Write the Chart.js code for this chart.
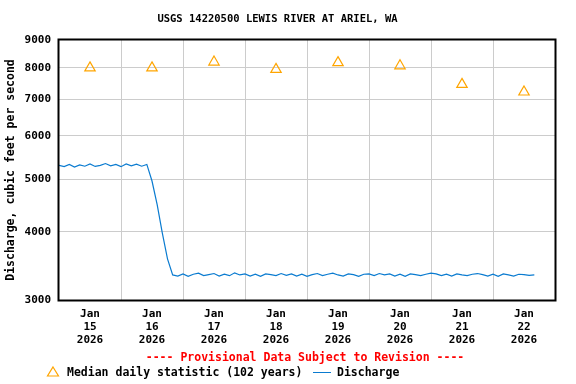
<!DOCTYPE html>
<html>
<head>
<meta charset="utf-8">
<script src="https://cdn.jsdelivr.net/npm/chart.js@4"></script>
<style>
  html, body { margin: 0; padding: 0; background: #fff; }
  #wrap { width: 576px; height: 384px; }
</style>
</head>
<body>
<div id="wrap"><canvas id="flowChart" width="576" height="384"></canvas></div>
<script>
// ─── data ──────────────────────────────────────────────────────
const TITLE      = 'USGS 14220500 LEWIS RIVER AT ARIEL, WA'
const Y_TITLE    = 'Discharge, cubic feet per second'
const DAY_TICKS  = [
  ['Jan', '15', '2026'], ['Jan', '16', '2026'], ['Jan', '17', '2026'], ['Jan', '18', '2026'],
  ['Jan', '19', '2026'], ['Jan', '20', '2026'], ['Jan', '21', '2026'], ['Jan', '22', '2026'],
]
const Y_TICKS    = [3000, 4000, 5000, 6000, 7000, 8000, 9000]
const MEDIAN     = [8000, 8000, 8200, 7950, 8180, 8070, 7460, 7225]   // noon of each day
const FLOW_STEP  = 2   // hours between discharge readings, from Jan 15 00:00
const FLOW       = [
  5300, 5270, 5320, 5260, 5310, 5280, 5330, 5275, 5300, 5340, 5290, 5320, 5270, 5330, 5290, 5325, 5280, 5320,
  4960, 4490, 3981, 3570,
  3335, 3320, 3350, 3315, 3345, 3360, 3325, 3340, 3355, 3320,
  3345, 3325, 3365, 3335, 3350, 3320, 3345, 3315, 3350, 3340,
  3325, 3355, 3330, 3350, 3320, 3345, 3315, 3340, 3355, 3325,
  3345, 3360, 3335, 3320, 3350, 3340, 3315, 3345, 3350, 3325,
  3355, 3335, 3350, 3320, 3345, 3315, 3350, 3340, 3325, 3345,
  3360, 3350, 3325, 3345, 3320, 3350, 3335, 3325, 3345, 3355,
  3340, 3320, 3345, 3315, 3350, 3335, 3320, 3345, 3340, 3330,
  3335,
]

const MONO   = "'DejaVu Sans Mono', monospace"
const ORANGE = '#ffa500'
const BLUE   = '#0a7bd0'
const GRID   = '#cccccc'

// frame + provisional note + legend
const usgsDecor = {
  id: 'usgsDecor',
  afterDraw(chart) {
    const { ctx, chartArea: a } = chart
    ctx.save()
    ctx.strokeStyle = '#000'
    ctx.lineWidth = 2
    ctx.strokeRect(a.left - 0.5, a.top - 0.5, a.right - a.left + 1, a.bottom - a.top + 1)

    ctx.textBaseline = 'middle'
    ctx.font = 'bold 11.5px ' + MONO
    ctx.fillStyle = '#ff0000'
    ctx.textAlign = 'center'
    ctx.fillText('---- Provisional Data Subject to Revision ----', 305, 358)

    ctx.textAlign = 'left'
    ctx.fillStyle = '#000'
    ctx.fillText('Median daily statistic (102 years)', 67, 373)
    ctx.fillText('Discharge', 337, 373)

    ctx.strokeStyle = ORANGE
    ctx.lineWidth = 1.2
    ctx.beginPath()
    ctx.moveTo(53, 367); ctx.lineTo(58.5, 376); ctx.lineTo(47.5, 376); ctx.closePath()
    ctx.stroke()

    ctx.strokeStyle = BLUE
    ctx.lineWidth = 1
    ctx.beginPath()
    ctx.moveTo(313, 372.5); ctx.lineTo(331, 372.5)
    ctx.stroke()
    ctx.restore()
  }
}

new Chart(document.getElementById('flowChart'), {
  type: 'scatter',
  data: {
    datasets: [
      {
        label: 'Discharge',
        data: FLOW.map((v, i) => ({ x: i * FLOW_STEP, y: v })),
        showLine: true, borderColor: BLUE, borderWidth: 1.2,
        pointRadius: 0, tension: 0, order: 2,
      },
      {
        label: 'Median daily statistic (102 years)',
        data: MEDIAN.map((v, i) => ({ x: i * 24 + 12, y: v })),
        showLine: false, pointStyle: 'triangle', pointRadius: 6,
        borderColor: ORANGE, backgroundColor: 'rgba(0,0,0,0)', borderWidth: 1.2, order: 1,
      },
    ]
  },
  options: {
    responsive: false, animation: false,
    layout: { padding: { left: 0, right: 21, top: 0, bottom: 0 } },
    plugins: {
      legend: { display: false },
      tooltip: { enabled: false },
      title: {
        display: true, text: TITLE, color: '#000',
        font: { family: MONO, size: 10.5, weight: 'bold' },
        padding: { top: 13, bottom: 14.4 },
      },
    },
    scales: {
      x: {
        type: 'linear', min: 0, max: 192,
        afterBuildTicks: s => { s.ticks = []; for (let h = 0; h <= 192; h += 12) s.ticks.push({ value: h }) },
        afterFit: s => { s.height = 84 },
        border: { display: false },
        grid: {
          drawTicks: false,
          color: c => (c.tick && c.tick.value % 24 === 0 && c.tick.value > 0 && c.tick.value < 192) ? GRID : 'rgba(0,0,0,0)',
        },
        ticks: {
          autoSkip: false, maxRotation: 0, padding: 8, color: '#000',
          font: { family: MONO, size: 11, weight: 'bold', lineHeight: 1.18 },
          callback: v => (v % 24 === 12 ? DAY_TICKS[(v - 12) / 24] : ''),
        },
      },
      y: {
        type: 'logarithmic', min: 3000, max: 9000,
        afterBuildTicks: s => { s.ticks = Y_TICKS.map(v => ({ value: v })) },
        afterFit: s => { s.width = 59 },
        border: { display: false },
        grid: { drawTicks: false, color: c => (c.tick && c.tick.value > 3000 && c.tick.value < 9000) ? GRID : 'rgba(0,0,0,0)' },
        ticks: {
          padding: 8, color: '#000',
          font: { family: MONO, size: 11, weight: 'bold' },
          callback: v => String(v),
        },
        title: {
          display: true, text: Y_TITLE, color: '#000',
          font: { family: MONO, size: 11.5, weight: 'bold' },
          padding: { top: 4, bottom: 0 },
        },
      },
    }
  },
  plugins: [usgsDecor]
})
</script>
</body>
</html>
